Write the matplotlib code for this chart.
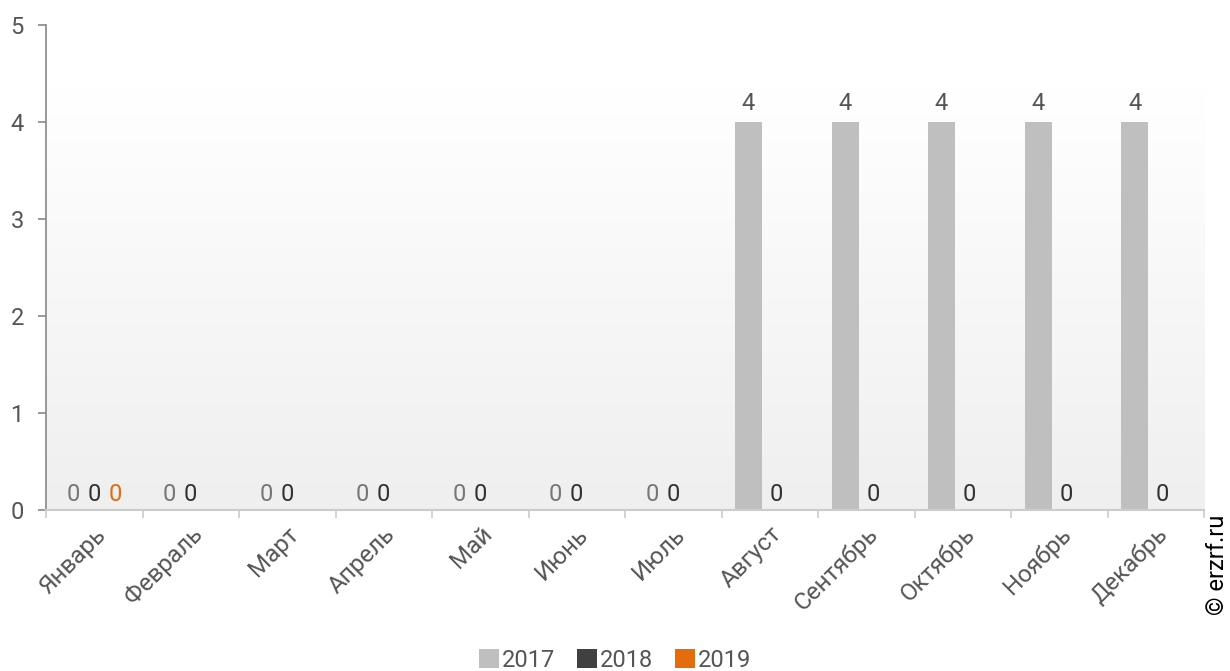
import numpy as np
import matplotlib
matplotlib.use('Agg')
import matplotlib.pyplot as plt
from matplotlib.patches import Patch

plt.rcParams['font.family'] = ['Roboto', 'DejaVu Sans']

# Data.
months = ['Январь', 'Февраль', 'Март', 'Апрель', 'Май', 'Июнь',
          'Июль', 'Август', 'Сентябрь', 'Октябрь', 'Ноябрь', 'Декабрь']
years = ['2017', '2018', '2019']
s2017 = [0, 0, 0, 0, 0, 0, 0, 4, 4, 4, 4, 4]
s2018 = [0, 0, 0, 0, 0, 0, 0, 0, 0, 0, 0, 0]
s2019 = [0, None, None, None, None, None, None, None, None, None, None, None]

colors = ['#bfbfbf', '#404040', '#e46c0a']
label_colors = ['#777777', '#333333', '#e46c0a']

fig = plt.figure(figsize=(12.3, 6.71), dpi=100)
ax = fig.add_axes([0.0374, 0.2399, 0.9415, 0.7228])

x = np.arange(len(months))
offsets = [-0.22, 0.0, 0.22]
width = 0.28

# Gradient background of the plot area.
grad = np.linspace(0, 1, 256).reshape(-1, 1)
ax.imshow(grad, extent=(-0.5, 11.5, 0, 4.35), aspect='auto', origin='upper',
          cmap=matplotlib.colors.LinearSegmentedColormap.from_list('g', ['#ffffff', '#efefef']),
          zorder=0)

series = [s2017, s2018, s2019]
for i, s in enumerate(series):
    for j, v in enumerate(s):
        if v is None:
            continue
        xi = x[j] + offsets[i]
        if v > 0:
            ax.bar(xi, v, width=width, color=colors[i], zorder=2)
        shift = 0
        # the 0 label of 2018 sits right of a tall 2017 bar
        if i == 1 and s2017[j] > 0:
            shift = 5
        ax.annotate(str(v), (xi, v), xytext=(shift, 3 if v == 0 else 5),
                    textcoords='offset points',
                    ha='center', va='bottom', fontsize=17,
                    color=label_colors[i] if v == 0 else '#555555', zorder=3)

ax.set_xlim(-0.5, 11.5)
ax.set_ylim(0, 5)
ax.set_yticks(range(6))
ax.tick_params(axis='y', length=6, width=1.2, color='#888888', labelsize=17,
               labelcolor='#555555', pad=10)

ax.set_xticks(x)
ax.set_xticklabels(months, rotation=45, ha='right', va='top', rotation_mode='anchor')
ax.tick_params(axis='x', length=0, labelsize=17.5, labelcolor='#555555', pad=9)
ax.set_xticks(np.arange(-0.5, 12, 1), minor=True)
ax.tick_params(axis='x', which='minor', length=6, width=1.2, color='#cccccc')

for side in ['top', 'right']:
    ax.spines[side].set_visible(False)
ax.spines['left'].set_color('#888888')
ax.spines['left'].set_linewidth(1.2)
ax.spines['bottom'].set_color('#cccccc')
ax.spines['bottom'].set_linewidth(1.5)
ax.set_facecolor('white')

handles = [Patch(facecolor=c, edgecolor='none') for c in colors]
leg = fig.legend(handles, years, loc='center', bbox_to_anchor=(0.5, 0.016), ncol=3,
                 frameon=False, fontsize=17, handlelength=0.85, handleheight=0.85,
                 handletextpad=0.15, columnspacing=0.9)
for t in leg.get_texts():
    t.set_color('#555555')

fig.text(0.990, 0.158, '© erzrf.ru', rotation=90, ha='center', va='center',
         fontsize=17, color='#000000')

fig.savefig('out.png', dpi=100)
